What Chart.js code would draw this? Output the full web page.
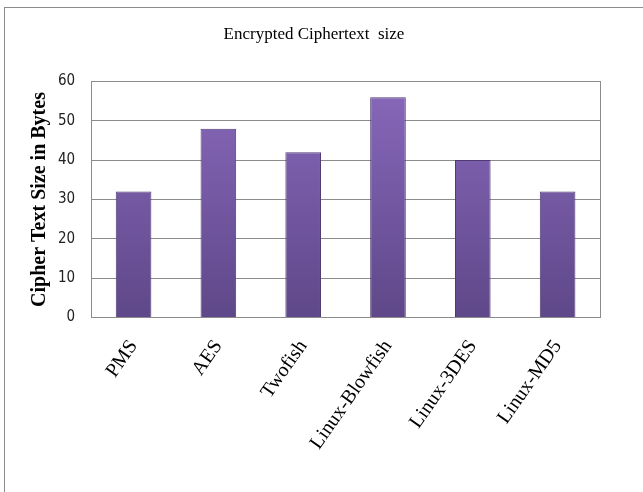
<!DOCTYPE html>
<html>
<head>
<meta charset="utf-8">
<script src="https://cdn.jsdelivr.net/npm/chart.js@4/dist/chart.umd.min.js"></script>
<style>
  html, body { margin: 0; padding: 0; background: #fff; }
  #wrap { position: relative; width: 643px; height: 492px; overflow: hidden; }
  #frame { position: absolute; left: 4px; top: 7px; width: 650px; height: 500px; border: 1px solid #8c8c8c; box-sizing: border-box; }
  #chart { position: absolute; left: 0; top: 0; }
</style>
</head>
<body>
<div id="wrap">
  <div id="frame"></div>
  <canvas id="chart" width="643" height="492"></canvas>
</div>
<script>
// 数据
const categories = ["PMS", "AES", "Twofish", "Linux-Blowfish", "Linux-3DES", "Linux-MD5"];
const sizes = [32, 48, 42, 56, 40, 32];
const yTicks = [0, 10, 20, 30, 40, 50, 60];

const serif = "'Liberation Serif', 'Times New Roman', serif";
const narrow = "'Liberation Sans Narrow', 'DejaVu Sans Condensed', sans-serif";

function barFill(context) {
  const chart = context.chart;
  const area = chart.chartArea;
  if (!area) return "#7559a5";
  const g = chart.ctx.createLinearGradient(0, area.top, 0, area.bottom);
  g.addColorStop(0, "#8868bb");
  g.addColorStop(1, "#5f4889");
  return g;
}

new Chart(document.getElementById("chart"), {
  type: "bar",
  data: {
    labels: categories,
    datasets: [{
      data: sizes,
      backgroundColor: barFill,
      borderColor: "#4e3b73",
      borderWidth: 1,
      categoryPercentage: 1,
      barPercentage: 0.42,
    }],
  },
  options: {
    responsive: false,
    animation: false,
    layout: { padding: { left: 28, right: 43, top: 0, bottom: 20 } },
    plugins: {
      legend: { display: false },
      tooltip: { enabled: false },
      title: {
        display: true,
        text: "Encrypted Ciphertext  size",
        color: "#000",
        font: { family: serif, size: 17, weight: "normal" },
        padding: { top: 24, bottom: 37 },
      },
    },
    scales: {
      x: {
        grid: { display: false, drawTicks: false },
        border: { display: true, color: "#8c8c8c" },
        ticks: {
          color: "#000",
          font: { family: serif, size: 20 },
          minRotation: 55,
          maxRotation: 55,
          padding: 18,
        },
      },
      y: {
        min: 0,
        max: 60,
        afterBuildTicks: (axis) => { axis.ticks = yTicks.map((v) => ({ value: v })); },
        grid: { color: "#8c8c8c", drawTicks: false },
        border: { display: true, color: "#8c8c8c" },
        ticks: {
          color: "#222",
          font: { family: narrow, size: 15 },
          padding: 16,
        },
        title: {
          display: true,
          text: "Cipher Text Size in Bytes",
          color: "#000",
          font: { family: serif, size: 20, weight: "bold" },
          padding: { top: 0, bottom: -10 },
        },
      },
      y2: {
        position: "right",
        min: 0,
        max: 60,
        grid: { display: false, drawTicks: false },
        border: { display: true, color: "#8c8c8c" },
        ticks: { display: false },
      },
    },
  },
});
</script>
</body>
</html>
